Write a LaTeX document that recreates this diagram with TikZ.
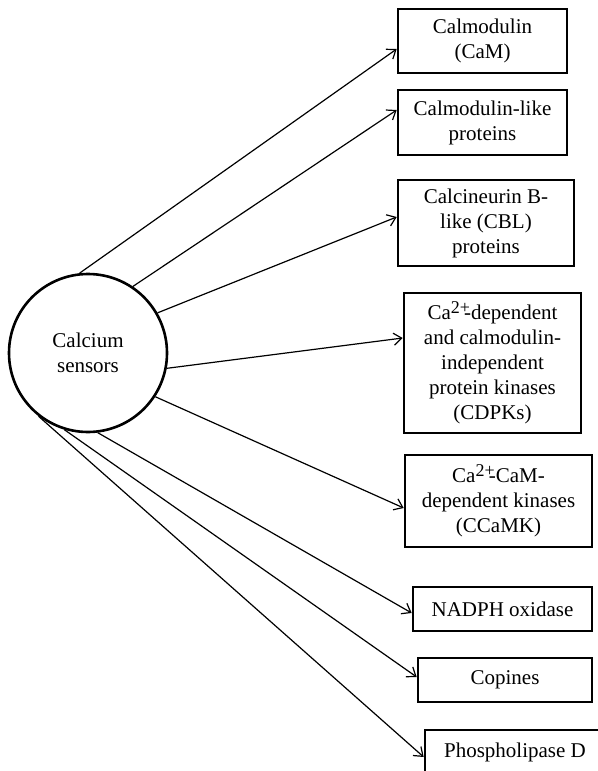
\documentclass[tikz,border=0pt]{standalone}
\usepackage{fontspec}
\setmainfont{Liberation Serif}
\usetikzlibrary{arrows.meta}
\newcommand{\catwo}{Ca\raisebox{.65ex}{\small 2+}\kern-.28em}
\begin{document}
\begin{tikzpicture}[x=0.5pt, y=-0.5pt,
                    every node/.style={font=\fontsize{10.5}{12.5}\selectfont},
                    sensor/.style={circle,draw,line width=1.3pt,minimum size=79pt,inner sep=0pt,align=center},
                    kind/.style={rectangle,draw,line width=1.3pt,align=center,inner sep=0pt}]

  \clip (0,0) rectangle (598,771);

  \node[sensor] (cs) at (88,353) {Calcium\\sensors};

  \node[kind,minimum width=84.5pt,minimum height=32pt] (cam) at (482.5,41) {Calmodulin\\(CaM)};
  \node[kind,minimum width=84.5pt,minimum height=32.5pt] (cml) at (482.5,122.5) {Calmodulin-like\\proteins};
  \node[kind,minimum width=88pt,minimum height=43pt] (cbl) at (486,223) {Calcineurin B-\\like (CBL)\\proteins};
  \node[kind,minimum width=88.5pt,minimum height=70pt] (cdpk) at (492.5,363)
       {\catwo-dependent\\and calmodulin-\\independent\\protein kinases\\(CDPKs)};
  \node[kind,minimum width=93.5pt,minimum height=46pt] (ccamk) at (498.5,501)
       {\catwo-CaM-\\dependent kinases\\(CCaMK)};
  \node[kind,minimum width=89.5pt,minimum height=22pt] (nadph) at (502.5,609) {NADPH oxidase};
  \node[kind,minimum width=87pt,minimum height=22pt] (cop) at (505,680) {Copines};
  \node[kind,minimum width=90pt,minimum height=22pt] (pld) at (515,752) {Phospholipase D};

  \path[-{Straight Barb[length=4pt,width=6pt]}, line width=0.6pt]

    (cs.96)   edge ([yshift=-4pt]cam.west)
    (cs.56)   edge ([yshift=6.25pt]cml.west)
    (cs.30)   edge ([yshift=3pt]cbl.west)
    (cs.-11)  edge ([yshift=12.5pt]cdpk.west)
    (cs.-33)  edge ([yshift=-3.5pt]ccamk.west)
    (cs.-83)  edge ([yshift=-2pt]nadph.west)
    (cs.-107) edge ([yshift=1.5pt]cop.west)
    (cs.-128) edge ([yshift=-2.5pt]pld.west)	;

\end{tikzpicture}
\end{document}
